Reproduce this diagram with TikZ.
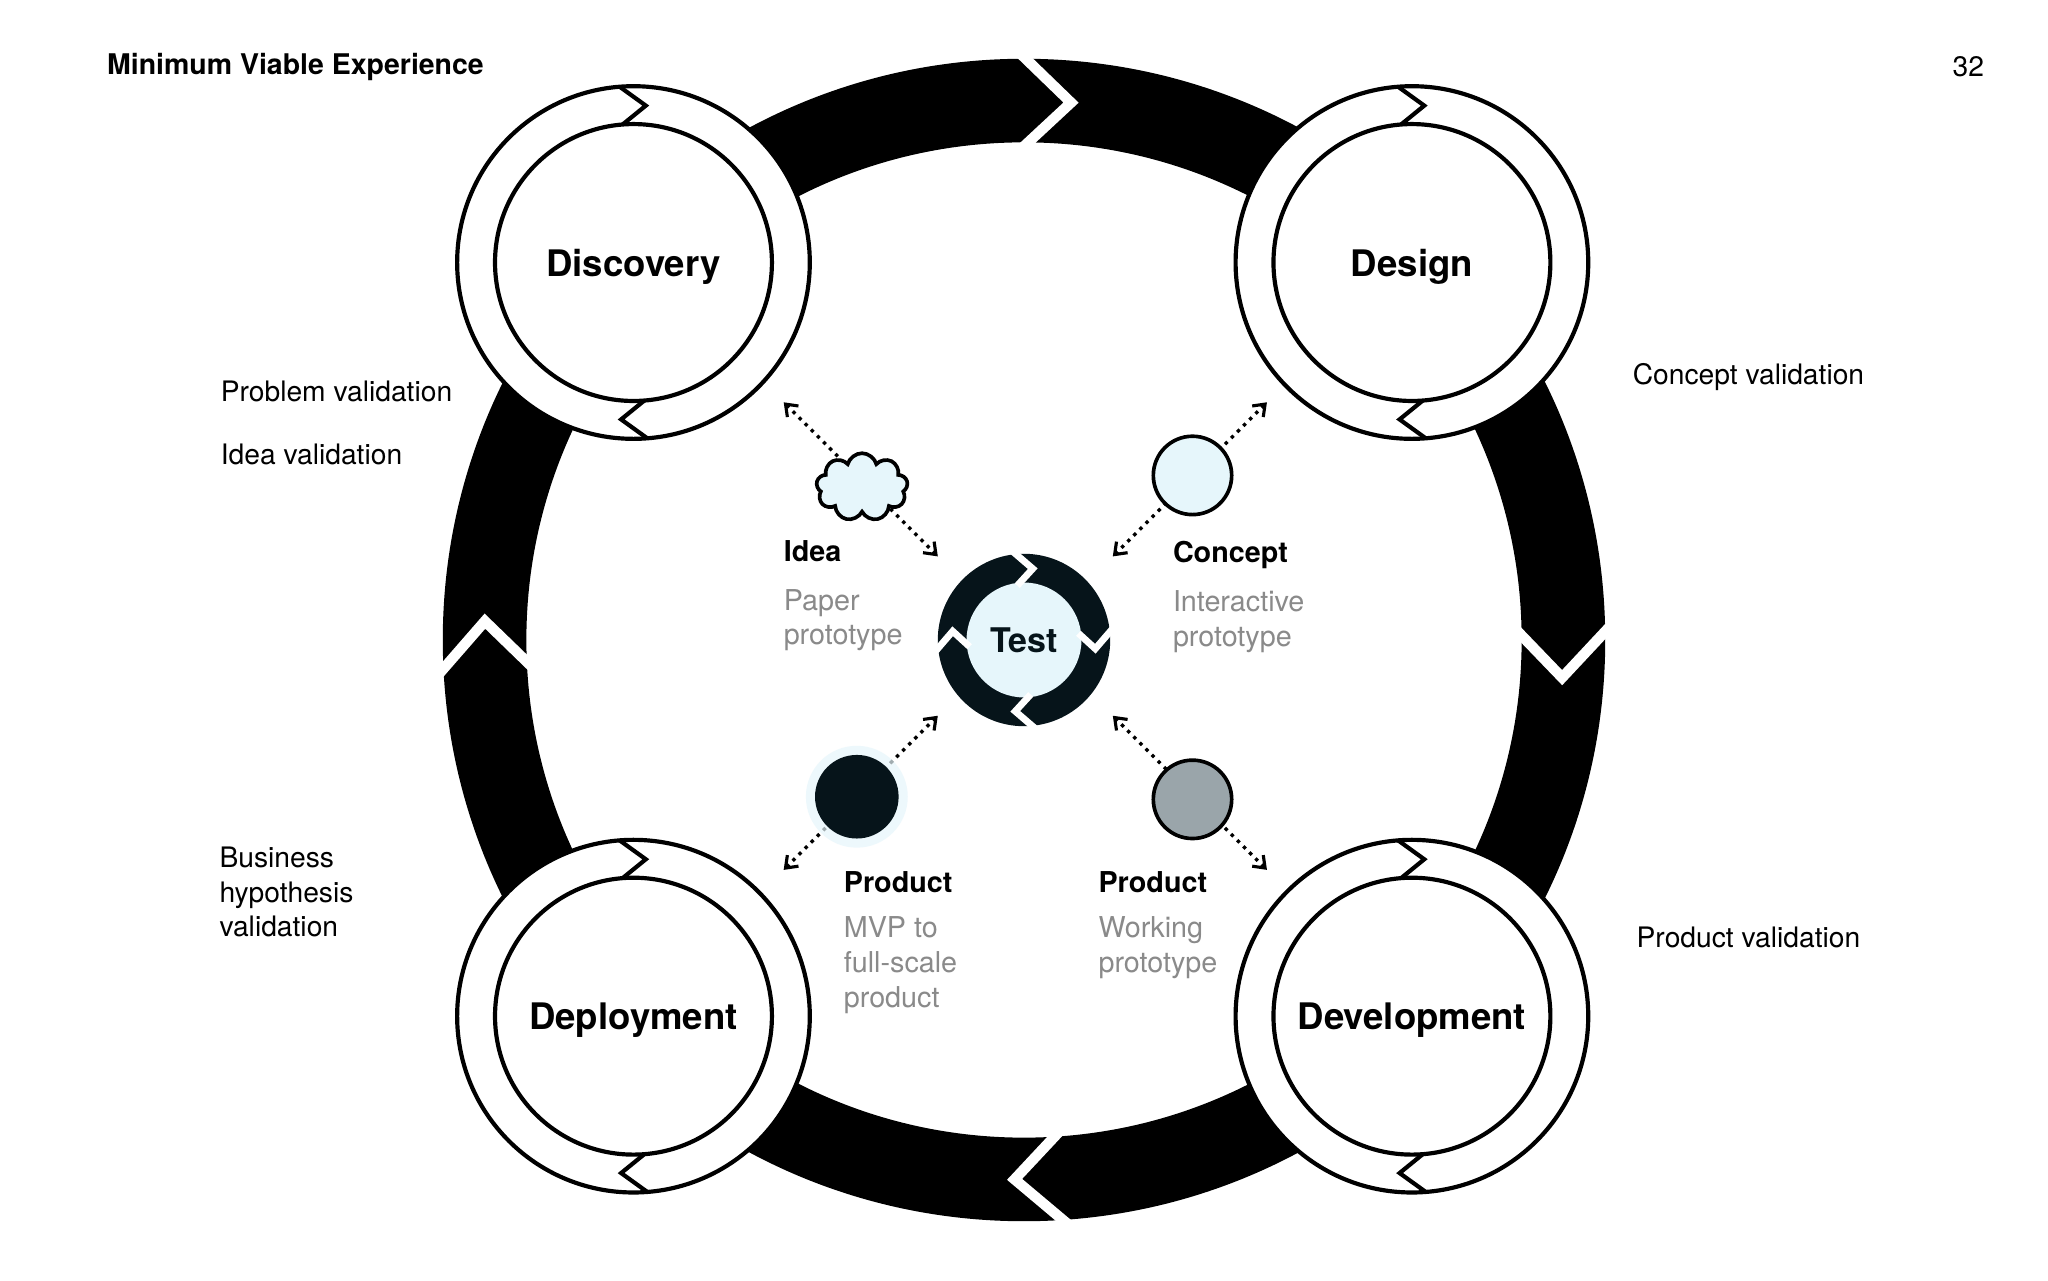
\documentclass[tikz,border=0pt]{standalone}
\usepackage{fontspec}
\setmainfont{TeX Gyre Heros}
\usetikzlibrary{calc,arrows.meta,shapes.symbols}
\definecolor{lblue}{HTML}{E6F6FB}
\definecolor{dark}{HTML}{06141A}
\definecolor{gtxt}{HTML}{8A8A8A}
\definecolor{gcirc}{HTML}{9AA5AA}
\newcommand\mychev[7]{\draw[#7,line width=#6,line join=miter,line cap=butt] ($(#1)+({#2+#5}:#3)$) -- ($(#1)+({#2-#5}:{(#3+#4)/2})$) -- ($(#1)+({#2+#5}:#4)$);}
\tikzset{
 outc/.style={circle,draw,line width=1.6pt,fill=white,minimum size=135pt,inner sep=0},
 inc/.style={circle,draw,line width=1.6pt,fill=white,minimum size=106pt,inner sep=0,font=\fontsize{14}{16}\selectfont\bfseries,text depth=-1.5pt},
 side/.style={anchor=west,align=left,font=\fontsize{10.8}{13.3}\selectfont},
 lab/.style={anchor=north west,align=left,font=\fontsize{11}{13.3}\selectfont},
 darr/.style={dotted,line width=1.3pt,{Straight Barb[length=4pt,width=6pt,line width=1.2pt]}-{Straight Barb[length=4pt,width=6pt,line width=1.2pt]}},
}
\begin{document}
\begin{tikzpicture}[x=0.5pt,y=0.5pt]
\useasboundingbox[fill=white] (0,0) rectangle (1568,980);
\coordinate (C) at (784,490);
\fill[black,even odd rule] (C) circle (445) (C) circle (381);
\foreach \a in {88,-1,-88,181}{\mychev{C}{\a}{372}{454}{3}{4pt}{white}}
% stage circles
\foreach \n/\t/\p in {disc/Discovery/{485,779},des/Design/{1081,779},dep/Deployment/{485,202},dev/Development/{1081,202}}{
 \node[outc] (\n o) at (\p) {};
 \node[inc] (\n) at (\p) {\t};
 \mychev{\n}{90}{106}{135}{4.5}{1.6pt}{black}
 \mychev{\n}{270}{106}{135}{4.5}{1.6pt}{black}
}
% test
\node[circle,fill=dark,minimum size=66pt,inner sep=0] (testo) at (C) {};
\node[circle,fill=lblue,minimum size=44pt,inner sep=0,font=\fontsize{13}{15}\selectfont\bfseries,text=dark] (test) at (C) {Test};
\foreach \a in {90,0,-90,180}{\mychev{C}{\a}{42}{68}{7}{2.6pt}{white}}
% arrows endpoints
\coordinate (e1) at (600,672);
\coordinate (t1) at (718,554);
\coordinate (e2) at (970,672);
\coordinate (t2) at (852,554);
\coordinate (e3) at (600,314);
\coordinate (t3) at (718,432);
\coordinate (e4) at (970,314);
\coordinate (t4) at (852,432);
\draw[darr] (e1) -- (t1);
\draw[darr] (e2) -- (t2);
\draw[darr] (e3) -- (t3);
\draw[darr] (e4) -- (t4);
\node[cloud,cloud puffs=9,aspect=1.4,draw,line width=1.4pt,fill=lblue,minimum width=35pt,minimum height=26pt,inner sep=0] (cloud) at (660,607) {};
\node[circle,draw,line width=1.4pt,fill=lblue,minimum size=30pt,inner sep=0] (conc) at (913,616) {};
\node[circle,fill=lblue,minimum size=39pt,inner sep=0,opacity=0.7] (glow) at (656,370) {};
\node[circle,fill=dark,minimum size=32pt,inner sep=0] (mvp) at (656,370) {};
\node[circle,draw,line width=1.4pt,fill=gcirc,minimum size=30pt,inner sep=0] (work) at (913,368) {};
% labels
\node[lab,font=\fontsize{11}{13.3}\selectfont\bfseries] (l1) at (593,573) {Idea};
\node[lab,text=gtxt] (l1b) at (593,536) {Paper\\prototype};
\node[lab,font=\fontsize{11}{13.3}\selectfont\bfseries] (l2) at (891,573) {Concept};
\node[lab,text=gtxt] (l2b) at (891,535) {Interactive\\prototype};
\node[lab,font=\fontsize{11}{13.3}\selectfont\bfseries] (l3) at (639,320) {Product};
\node[lab,text=gtxt] (l3b) at (639,285) {MVP to\\full-scale\\product};
\node[lab,font=\fontsize{11}{13.3}\selectfont\bfseries] (l4) at (834,320) {Product};
\node[lab,text=gtxt] (l4b) at (834,285) {Working\\prototype};
% side texts
\node[side] (s1) at (162,680) {Problem validation};
\node[side] (s2) at (162,632) {Idea validation};
\node[side] (s3) at (1243,691) {Concept validation};
\node[side] (s4) at (161,297) {Business\\hypothesis\\validation};
\node[side] (s5) at (1246,262) {Product validation};
\node[anchor=west,font=\fontsize{10.9}{12}\selectfont\bfseries] (title) at (75,929) {Minimum Viable Experience};
\node[anchor=east,font=\fontsize{10.8}{12}\selectfont] (pg) at (1526,929) {32};
\end{tikzpicture}
\end{document}
